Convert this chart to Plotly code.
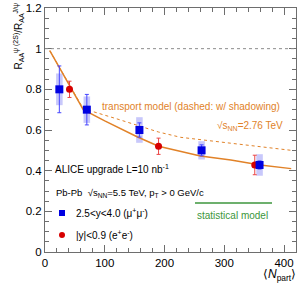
import plotly.graph_objects as go

# ---------------- data ----------------
fwd_npart = [24, 70, 158, 262, 359]
fwd_ratio = [0.80, 0.70, 0.60, 0.50, 0.428]
fwd_stat = [0.115, 0.075, 0.035, 0.027, 0.02]
fwd_sys = [0.078, 0.065, 0.063, 0.045, 0.053]

mid_npart = [41, 190, 351]
mid_ratio = [0.80, 0.52, 0.428]
mid_stat = [0.04, 0.04, 0.048]

model_npart = [8, 30, 64, 100, 154, 190, 227, 260, 311, 360, 412]
model_solid = [0.99, 0.876, 0.70, 0.645, 0.567, 0.52, 0.493, 0.472, 0.452, 0.428, 0.41]
shadow_npart = [8, 30, 64, 120, 190, 227, 311, 412]
model_dashed = [0.99, 0.876, 0.705, 0.655, 0.59, 0.564, 0.535, 0.50]

x_ticks = [0, 100, 200, 300, 400]
y_ticks = [0, 0.2, 0.4, 0.6, 0.8, 1, 1.2]
y_tick_labels = ["0", "0.2", "0.4", "0.6", "0.8", "1", "1.2"]

# ---------------- style ----------------
BLUE = "rgb(0,0,225)"
BLUE_ERR = "rgb(70,70,255)"
BOX = "rgba(110,110,245,0.38)"
RED = "rgb(215,0,0)"
RED_ERR = "rgb(235,70,70)"
ORANGE = "rgb(225,130,40)"
GREEN = "rgb(60,150,60)"
AXC = "rgb(110,110,110)"
FONT = "Liberation Sans, Arial, sans-serif"

L, R, T, B = 45, 11, 8, 39
W, H = 307, 291
pw, ph = W - L - R, H - T - B


def px(xp):
    return (xp - L) / pw


def py(yp):
    return (T + ph - yp) / ph


fig = go.Figure()

# systematic boxes
fig.add_trace(go.Bar(
    x=fwd_npart,
    y=[2 * s for s in fwd_sys],
    base=[v - s for v, s in zip(fwd_ratio, fwd_sys)],
    width=11,
    marker=dict(color=BOX, line=dict(width=0)),
    showlegend=False, hoverinfo="skip",
))

# model curves
fig.add_trace(go.Scatter(
    x=model_npart, y=model_solid, mode="lines",
    line=dict(color=ORANGE, width=1.5), showlegend=False,
))
fig.add_trace(go.Scatter(
    x=shadow_npart, y=model_dashed, mode="lines",
    line=dict(color=ORANGE, width=1, dash="dot"), showlegend=False,
))

# data points
fig.add_trace(go.Scatter(
    x=mid_npart, y=mid_ratio, mode="markers",
    marker=dict(symbol="circle", size=7, color=RED),
    error_y=dict(type="data", array=mid_stat, color=RED_ERR, thickness=1, width=2),
    showlegend=False,
))
fig.add_trace(go.Scatter(
    x=fwd_npart, y=fwd_ratio, mode="markers",
    marker=dict(symbol="square", size=8, color=BLUE),
    error_y=dict(type="data", array=fwd_stat, color=BLUE_ERR, thickness=1, width=2),
    showlegend=False,
))

# legend markers on overlay (paper-like) axes
fig.add_trace(go.Scatter(
    x=[px(62)], y=[py(213)], mode="markers", xaxis="x2", yaxis="y2",
    marker=dict(symbol="square", size=6, color=BLUE), showlegend=False,
))
fig.add_trace(go.Scatter(
    x=[px(62)], y=[py(235)], mode="markers", xaxis="x2", yaxis="y2",
    marker=dict(symbol="circle", size=6, color=RED), showlegend=False,
))
fig.add_trace(go.Scatter(
    x=[px(195), px(272)], y=[py(203), py(203)], mode="lines", xaxis="x2", yaxis="y2",
    line=dict(color=GREEN, width=1.5), showlegend=False,
))

fig.add_hline(y=1, line=dict(color="rgb(140,140,140)", width=1, dash="dot"))

anns = [
    dict(text="transport model (dashed: w/ shadowing)", x=px(100), y=py(107),
         xanchor="left", font=dict(size=10, color=ORANGE)),
    dict(text="√s<sub>NN</sub>=2.76 TeV", x=px(215), y=py(126),
         xanchor="left", font=dict(size=10, color=ORANGE)),
    dict(text="ALICE upgrade L=10 nb<sup>-1</sup>", x=px(53), y=py(169),
         xanchor="left", font=dict(size=10, color="black")),
    dict(text="Pb-Pb  √s<sub>NN</sub>=5.5 TeV, p<sub>T</sub> > 0 GeV/c", x=px(54), y=py(193),
         xanchor="left", font=dict(size=9.5, color="black")),
    dict(text="2.5<y<4.0 (μ<sup>+</sup>μ<sup>-</sup>)", x=px(74), y=py(213),
         xanchor="left", font=dict(size=10, color="black")),
    dict(text="|y|<0.9 (e<sup>+</sup>e<sup>-</sup>)", x=px(74), y=py(235),
         xanchor="left", font=dict(size=10, color="black")),
    dict(text="statistical model", x=px(232), y=py(215),
         xanchor="center", font=dict(size=10, color=GREEN)),
    dict(text="⟨<i>N</i><sub>part</sub>⟩", x=px(298), y=py(275),
         xanchor="right", font=dict(size=12, color="black")),
    dict(text="R<sub>AA</sub><sup>ψ (2S)</sup>/R<sub>AA</sub><sup>J/ψ</sup>", x=px(18), y=py(1),
         xanchor="center", yanchor="top", textangle=-90, font=dict(size=10, color="black")),
]
for a in anns:
    a.setdefault("yanchor", "middle")
    fig.add_annotation(xref="paper", yref="paper", showarrow=False, **a)

axis_common = dict(
    showgrid=False, zeroline=False, showline=True, linecolor=AXC, linewidth=1,
    mirror="ticks", ticks="inside", tickcolor=AXC, ticklen=7, tickwidth=1,
    tickfont=dict(size=11.5, color="black", family=FONT),
)

fig.update_layout(
    width=W, height=H,
    margin=dict(l=L, r=R, t=T, b=B, autoexpand=False),
    paper_bgcolor="white", plot_bgcolor="white",
    font=dict(family=FONT),
    showlegend=False,
    barmode="overlay",
    xaxis=dict(range=[0, 420], tickvals=x_ticks, ticktext=[str(v) for v in x_ticks],
               minor=dict(dtick=20, ticks="inside", ticklen=4, tickcolor=AXC),
               automargin=False, **axis_common),
    yaxis=dict(range=[0, 1.2], tickvals=y_ticks, ticktext=y_tick_labels,
               minor=dict(dtick=0.05, ticks="inside", ticklen=4, tickcolor=AXC),
               automargin=False, **axis_common),
    xaxis2=dict(range=[0, 1], overlaying="x", visible=False),
    yaxis2=dict(range=[0, 1], overlaying="y", visible=False),
)

fig.write_html(
    "out.html",
    config={"displayModeBar": False},
    post_script="document.body.style.margin='0';document.body.style.overflow='hidden';",
)
